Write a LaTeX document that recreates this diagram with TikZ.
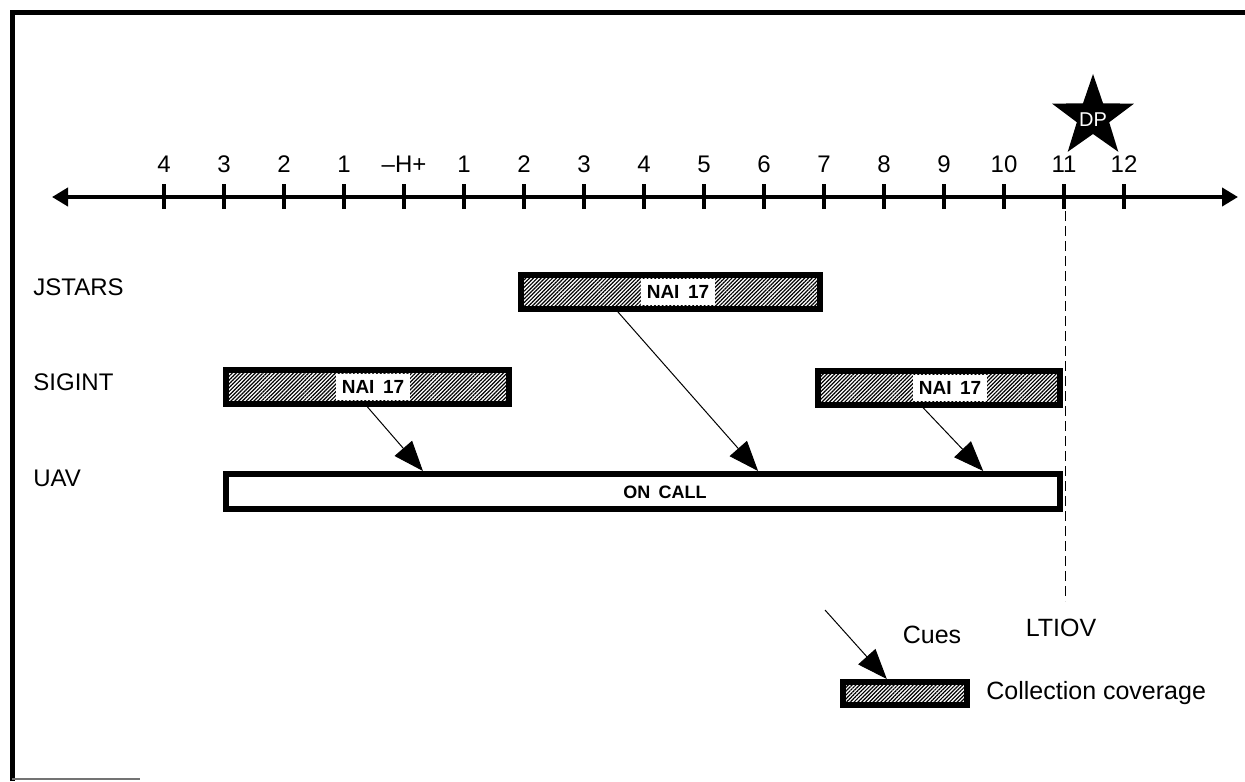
\documentclass[tikz,border=0pt]{standalone}
\usepackage{fontspec}
\setmainfont{Liberation Sans}
\usetikzlibrary{arrows.meta,patterns.meta,calc}
\begin{document}
\begin{tikzpicture}[x=0.5pt,y=-0.5pt,
  bar/.style={draw, line width=3pt, inner sep=0pt,
    pattern={Lines[angle=45,distance=1.35pt,line width=0.6pt]}},
  cue/.style={line width=0.5pt, -{Triangle[length=15pt,width=11.5pt]}},
  ticklbl/.style={font=\fontsize{12}{14}\selectfont, anchor=base, inner sep=0pt},
  rowlbl/.style={font=\fontsize{12}{14}\selectfont, anchor=west, inner sep=0pt},
  legtext/.style={font=\fontsize{12.5}{14}\selectfont, inner sep=0pt},
  naibox/.style={fill=white, font=\bfseries\fontsize{9.5}{10}\selectfont,
    inner xsep=3pt, inner ysep=0pt, minimum height=13pt},
  tickmark/.style={line width=2pt}]
\useasboundingbox (0,0) rectangle (1245,781);
% frame
\draw[line width=2.5pt] (12,781) -- (12,13) -- (1245,13);
\draw[line width=1pt, black!55] (12,779) -- (140,779);
% axis
\coordinate (axL) at (52,197);
\coordinate (axR) at (1238,197);
\draw[line width=2.3pt, {Triangle[length=8pt,width=9pt]}-{Triangle[length=8pt,width=9pt]}] (axL) -- (axR);
\foreach \i/\t in {-4/4,-3/3,-2/2,-1/1,0/{--H+},1/1,2/2,3/3,4/4,5/5,6/6,7/7,8/8,9/9,10/10,11/11,12/12}{
  \draw[tickmark] ({404+60*\i},184) -- ({404+60*\i},209);
  \node[ticklbl] (t\i) at ({404+60*\i},172) {\t};
}
% decision point star
\fill[shift={(1093,117)}] (-90:43) -- (-54:17) -- (-18:43) -- (18:17) -- (54:43) -- (90:17)
  -- (126:43) -- (162:17) -- (198:43) -- (234:17) -- cycle;
\node[text=white, font=\fontsize{10}{11}\selectfont, inner sep=0pt] (dp) at (1093,120) {DP};
% LTIOV dashed line
\coordinate (d1) at (1065,211);
\coordinate (d2) at (1065,601);
\draw[line width=0.5pt, dash pattern=on 5pt off 2.5pt] (d1) -- (d2);
% row labels
\node[rowlbl] (lj) at (33,287) {JSTARS};
\node[rowlbl] (ls) at (33,382) {SIGINT};
\node[rowlbl] (lu) at (33,478) {UAV};
% bars
\node[bar, minimum width=149.5pt, minimum height=17pt] (js) at (670.5,292) {};
\node[bar, minimum width=141.5pt, minimum height=17pt] (s1) at (367.5,387) {};
\node[bar, minimum width=121pt, minimum height=17pt] (s2) at (939,387.5) {};
\node[draw, line width=3pt, fill=white, inner sep=0pt, minimum width=417pt, minimum height=17.5pt] (uav) at (643,491.5) {};
\node[naibox] (n1) at (678,292) {NAI\hspace{0.45em}17};
\node[naibox] (n2) at (373,387) {NAI\hspace{0.45em}17};
\node[naibox] (n3) at (950,387.5) {NAI\hspace{0.45em}17};
\node[font=\bfseries\fontsize{9}{10}\selectfont, inner sep=0pt] (oc) at (665,492) {ON\hspace{0.45em}CALL};
% cues
\draw[cue] ($(js.south west)!0.318!(js.south east)$) -- ($(uav.north west)!0.637!(uav.north east)$);
\draw[cue] (s1.south) -- ($(uav.north west)!0.238!(uav.north east)$);
\draw[cue] ($(s2.south west)!0.435!(s2.south east)$) -- ($(uav.north west)!0.905!(uav.north east)$);
% legend
\node[bar, minimum width=62pt, minimum height=11.5pt] (leg) at (905,693.5) {};
\coordinate (lc) at (825,610);
\draw[cue] (lc) -- ($(leg.north west)!0.36!(leg.north east)$);
\node[legtext] (cues) at (932,635) {Cues};
\node[legtext] (lt) at (1061,628) {LTIOV};
\node[legtext, anchor=west] (cc) at (986,693) {Collection coverage};
\end{tikzpicture}
\end{document}
